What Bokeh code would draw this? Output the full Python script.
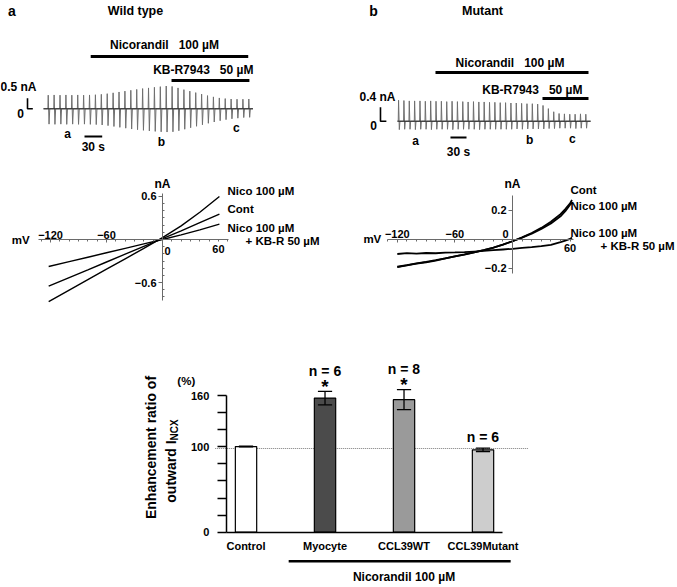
import numpy as np
from bokeh.plotting import figure
from bokeh.layouts import column, row
from bokeh.models import Range1d, LinearAxis, FixedTicker
from bokeh.core.properties import value
from bokeh.embed import file_html
from bokeh.resources import INLINE

FONT = "Liberation Sans"
MU = "\u00b5"
NB = "\u00a0"

# ---------------- data ----------------
SWEEP_PERIOD = 10  # s between ramp sweeps

# (a) wild type: peak outward / inward current of each ramp sweep (nA)
wt_up = [0.64, 0.65, 0.64, 0.65, 0.64, 0.65, 0.64, 0.65, 0.66, 0.68,
         0.71, 0.75, 0.79, 0.83, 0.87, 0.91, 0.95, 0.98, 1.01, 1.04,
         1.07, 1.05, 0.98, 0.90, 0.83, 0.76, 0.69, 0.62, 0.56, 0.51,
         0.48, 0.46, 0.45, 0.45, 0.46]
wt_down = [0.72, 0.73, 0.72, 0.73, 0.72, 0.73, 0.72, 0.73, 0.74, 0.76,
           0.79, 0.83, 0.87, 0.91, 0.95, 0.98, 1.01, 1.04, 1.06, 1.08,
           1.09, 1.08, 1.03, 0.96, 0.89, 0.82, 0.75, 0.68, 0.62, 0.56,
           0.51, 0.47, 0.44, 0.41, 0.40]
wt_first_sweep = 8      # s
wt_trace_end = 355      # s
wt_nico = (80, 347)     # s, nicorandil application
wt_kbr = (217, 349)     # s, KB-R7943 application
wt_marks = ["a", "b", "c"]
wt_mark_t = [41, 200, 327]

# (b) mutant
mut_up = [0.60, 0.59, 0.58, 0.58, 0.58, 0.57, 0.58, 0.57, 0.57, 0.56,
          0.57, 0.56, 0.56, 0.55, 0.56, 0.55, 0.55, 0.54, 0.54, 0.53,
          0.53, 0.52, 0.52, 0.51, 0.50, 0.50, 0.49, 0.45, 0.36, 0.27,
          0.22, 0.21, 0.20, 0.20, 0.21, 0.20]
mut_down = [0.24, 0.23, 0.23, 0.24, 0.23, 0.23, 0.24, 0.23, 0.23, 0.23,
            0.24, 0.23, 0.23, 0.23, 0.23, 0.24, 0.23, 0.23, 0.23, 0.23,
            0.23, 0.23, 0.22, 0.23, 0.22, 0.22, 0.22, 0.22, 0.21, 0.21,
            0.20, 0.20, 0.20, 0.21, 0.20, 0.20]
mut_first_sweep = 2
mut_trace_end = 361
mut_nico = (71, 357)
mut_kbr = (271, 357)
mut_marks = ["a", "b", "c"]
mut_mark_t = [34, 247, 327]

# I-V relations (mV, nA)
wt_iv_mv = [-122, -100, -80, -60, -40, -20, 0, 20, 40, 61]
wt_iv_nico = [-0.865, -0.705, -0.560, -0.414, -0.269, -0.124, 0.025, 0.19, 0.38, 0.60]
wt_iv_cont = [-0.650, -0.531, -0.423, -0.314, -0.205, -0.096, 0.012, 0.12, 0.235, 0.355]
wt_iv_kbr = [-0.377, -0.308, -0.247, -0.185, -0.123, -0.061, 0.0, 0.065, 0.135, 0.215]

mut_iv_mv = [-120, -110, -100, -90, -80, -70, -60, -50, -40, -30, -20, -10,
             0, 10, 20, 30, 40, 50, 55, 60, 62]
mut_iv_cont = [-0.190, -0.178, -0.167, -0.157, -0.145, -0.131, -0.117, -0.104,
               -0.089, -0.074, -0.057, -0.035, -0.012, 0.015, 0.045, 0.080,
               0.122, 0.175, 0.210, 0.250, 0.272]
mut_iv_nico = [-0.188, -0.177, -0.165, -0.155, -0.143, -0.130, -0.116, -0.103,
               -0.088, -0.073, -0.056, -0.035, -0.012, 0.013, 0.040, 0.072,
               0.110, 0.160, 0.195, 0.240, 0.252]
mut_iv_kbr = [-0.100, -0.094, -0.097, -0.093, -0.095, -0.090, -0.089, -0.087,
              -0.083, -0.079, -0.074, -0.069, -0.064, -0.058, -0.052, -0.045,
              -0.037, -0.018, -0.008, 0.004, 0.014]

# (c) enhancement ratio of outward I_NCX (%)
groups = ["Control", "Myocyte", "CCL39WT", "CCL39Mutant"]
ratio = [100.3, 157.0, 155.2, 96.5]
sem = [0.5, 7.8, 11.7, 2.0]
n_text = ["", "n = 6", "n = 8", "n = 6"]
sig = ["", "*", "*", ""]
ref_level = 98
treated_first, treated_last = 1, 3

bar_colors = ["white", "#4b4b4b", "#9a9a9a", "#cdcdcd"]


# ---------------- helpers ----------------
def make_fig(w, h, xr, yr):
    p = figure(width=w, height=h, x_range=Range1d(*xr), y_range=Range1d(*yr),
               x_axis_type=None, y_axis_type=None, output_backend="svg",
               toolbar_location=None, min_border=0)
    p.outline_line_color = None
    p.border_fill_color = "white"
    p.background_fill_color = "white"
    return p


def txt(p, x, y, s, size=11, align="center", baseline="middle", angle=0.0,
        xo=0, yo=0, color="black"):
    p.text(x=[x], y=[y], text=[s], text_font=value(FONT),
           text_font_size=value(f"{size}px"), text_font_style=value("bold"),
           text_align=value(align), text_baseline=value(baseline),
           angle=angle, x_offset=xo, y_offset=yo, text_color=color)


def add_axis(p, side, loc, ticks, bounds, minor=(), overrides=None,
             tick_in=0, tick_out=3, minor_in=0, minor_out=0, standoff=2,
             line_color="black", line_width=1.0, size=11, show_line=True):
    ax = LinearAxis(fixed_location=loc, bounds=bounds,
                    ticker=FixedTicker(ticks=list(ticks), minor_ticks=list(minor)))
    ax.axis_line_color = line_color if show_line else None
    ax.axis_line_width = line_width
    ax.major_tick_line_color = line_color
    ax.major_tick_line_width = line_width
    ax.minor_tick_line_color = line_color
    ax.major_tick_in = tick_in
    ax.major_tick_out = tick_out
    ax.minor_tick_in = minor_in
    ax.minor_tick_out = minor_out
    ax.major_label_standoff = standoff
    ax.major_label_text_font = FONT
    ax.major_label_text_font_style = "bold"
    ax.major_label_text_font_size = f"{size}px"
    ax.major_label_text_color = "black"
    if overrides:
        ax.major_label_overrides = overrides
    p.add_layout(ax, side)
    return ax


def trace_xy(first, up, down, t_end):
    xs, ys = [0.0], [0.0]
    for i, (u, d) in enumerate(zip(up, down)):
        t = first + i * SWEEP_PERIOD
        xs += [t - 0.6, t, t + 1.4, t + 2.6]
        ys += [0.0, u, -d, 0.0]
    xs.append(t_end)
    ys.append(0.0)
    return xs, ys


def nearest_down(first, down, t):
    i = int(round((t - first) / SWEEP_PERIOD))
    i = max(0, min(len(down) - 1, i))
    return down[i]


# ---------------- (a) top: wild-type trace ----------------
A = make_fig(340, 166, (-72.88, 503.39), (-2.709, 5.085))
xs, ys = trace_xy(wt_first_sweep, wt_up, wt_down, wt_trace_end)
A.line(xs, ys, line_color="#6f6f6f", line_width=1.0)
A.line([0, wt_trace_end], [0, 0], line_color="#222222", line_width=1.0)
nico_lvl_a, kbr_lvl_a = 2.455, 1.329
A.segment(x0=[wt_nico[0]], y0=[nico_lvl_a], x1=[wt_nico[1]], y1=[nico_lvl_a],
          line_color="black", line_width=3)
A.segment(x0=[wt_kbr[0]], y0=[kbr_lvl_a], x1=[wt_kbr[1]], y1=[kbr_lvl_a],
          line_color="black", line_width=3)
txt(A, (wt_nico[0] + wt_nico[1]) / 2, nico_lvl_a, f"Nicorandil{NB*3}100 {MU}M", 12, yo=-12, xo=-5)
txt(A, wt_kbr[1], kbr_lvl_a, f"KB-R7943{NB*3}50 {MU}M", 12, align="right", yo=-10, xo=4)
# scale bars
sb_t_a = -27.1
A.line([sb_t_a, sb_t_a, sb_t_a + 9], [0.5, 0, 0], line_color="black", line_width=1.6)
txt(A, A.x_range.start, 0.5, "0.5 nA", 12, align="left", yo=-11)
txt(A, sb_t_a, 0, "0", 12, xo=-7, yo=5)
sb30_a = 69.5
A.segment(x0=[sb30_a], y0=[-1.30], x1=[sb30_a + 30], y1=[-1.30], line_color="black", line_width=2)
txt(A, sb30_a + 15, -1.30, "30 s", 12, yo=11)
for lab, t in zip(wt_marks, wt_mark_t):
    txt(A, t, -nearest_down(wt_first_sweep, wt_down, t), lab, 12, yo=10)
txt(A, -53.4, 4.615, "a", 14)
txt(A, 155.9, 4.615, "Wild type", 12.5)

# ---------------- (b) top: mutant trace ----------------
B = make_fig(337, 166, (-106.54, 523.36), (-1.294, 3.449))
xs, ys = trace_xy(mut_first_sweep, mut_up, mut_down, mut_trace_end)
B.line(xs, ys, line_color="#6f6f6f", line_width=1.0)
B.line([0, mut_trace_end], [0, 0], line_color="#222222", line_width=1.0)
nico_lvl_b, kbr_lvl_b = 1.391, 0.649
B.segment(x0=[mut_nico[0]], y0=[nico_lvl_b], x1=[mut_nico[1]], y1=[nico_lvl_b],
          line_color="black", line_width=3)
B.segment(x0=[mut_kbr[0]], y0=[kbr_lvl_b], x1=[mut_kbr[1]], y1=[kbr_lvl_b],
          line_color="black", line_width=3)
txt(B, (mut_nico[0] + mut_nico[1]) / 2, nico_lvl_b, f"Nicorandil{NB*3}100 {MU}M", 12, yo=-10, xo=-2)
txt(B, mut_kbr[1], kbr_lvl_b, f"KB-R7943{NB*3}50 {MU}M", 12, align="right", yo=-8, xo=-6)
sb_t_b = -31.8
B.line([sb_t_b, sb_t_b, sb_t_b + 11], [0.4, 0, 0], line_color="black", line_width=1.6)
txt(B, sb_t_b, 0.4, "0.4 nA", 12, xo=-3, yo=-10)
txt(B, sb_t_b, 0, "0", 12, xo=-7, yo=4)
sb30_b = 99
B.segment(x0=[sb30_b], y0=[-0.466], x1=[sb30_b + 30], y1=[-0.466], line_color="black", line_width=2)
txt(B, sb30_b + 15, -0.466, "30 s", 12, yo=14)
for lab, t in zip(mut_marks, mut_mark_t):
    txt(B, t, -nearest_down(mut_first_sweep, mut_down, t), lab, 12, yo=11)
txt(B, -44.9, 3.163, "b", 14)
txt(B, 158.9, 3.163, "Mutant", 12.5)

# ---------------- (a) I-V ----------------
C = make_fig(340, 164, (-173.63, 190.78), (-1.269, 1.018))
gray = "#6a6a6a"
add_axis(C, "above", 0, [-120, -60], (-133, 71), minor=range(-130, 71, 10),
         tick_in=3, tick_out=0, minor_in=2, standoff=1, line_color=gray)
add_axis(C, "below", 0, [60], (-133, 71), tick_in=0, tick_out=0, standoff=5,
         show_line=False, line_color=gray)
add_axis(C, "left", 0, [-0.6, 0.6], (-0.85, 0.64),
         minor=[-0.8, -0.7, -0.5, -0.4, -0.3, -0.2, -0.1, 0.1, 0.2, 0.3, 0.4, 0.5],
         tick_in=0, tick_out=4, minor_in=2, standoff=2, line_color=gray)
for ys_ in (wt_iv_nico, wt_iv_cont, wt_iv_kbr):
    C.line(wt_iv_mv, ys_, line_color="black", line_width=1.4)
txt(C, 0, 0, "0", 11, xo=5, yo=11)
txt(C, 0, 0.78, "nA", 12)
txt(C, -152, 0, "mV", 11.5)
txt(C, 69.7, 0.683, f"Nico 100 {MU}M", 11.5, align="left")
txt(C, 69.7, 0.432, "Cont", 11.5, align="left")
txt(C, 69.7, 0.167, f"Nico 100 {MU}M", 11.5, align="left")
txt(C, 89, -0.014, f"+ KB-R 50 {MU}M", 11.5, align="left")

# ---------------- (b) I-V ----------------
D = make_fig(337, 164, (-179.17, 171.88), (-0.6276, 0.5034))
add_axis(D, "above", 0, [-120, -60], (-130.2, 63.5), minor=range(-130, 61, 10),
         tick_in=3, tick_out=0, minor_in=2, standoff=1, line_color=gray)
add_axis(D, "below", 0, [60], (-130.2, 63.5), tick_in=0, tick_out=0, standoff=5,
         show_line=False, line_color=gray)
add_axis(D, "left", 0, [-0.2, 0.2], (-0.235, 0.30), tick_in=0, tick_out=4,
         standoff=2, line_color=gray)
for ys_ in (mut_iv_cont, mut_iv_nico, mut_iv_kbr):
    D.line(mut_iv_mv, ys_, line_color="black", line_width=1.8)
txt(D, 0, 0, "0", 11, xo=-7, yo=-5)
txt(D, 0, 0.386, "nA", 12)
txt(D, -146, 0, "mV", 11.5)
txt(D, 60.4, 0.338, "Cont", 11.5, align="left")
txt(D, 60.4, 0.234, f"Nico 100 {MU}M", 11.5, align="left")
txt(D, 60.4, 0.048, f"Nico 100 {MU}M", 11.5, align="left")
txt(D, 91.7, -0.048, f"+ KB-R 50 {MU}M", 11.5, align="left")

# ---------------- (c) bar chart ----------------
E = make_fig(677, 257, (-3.108, 5.462), (-64.75, 236.18))
pos = list(range(len(groups)))
E.line([-0.39, 3.57], [ref_level, ref_level], line_color="#7a7a7a",
       line_width=1.2, line_dash="1 1")
E.vbar(x=pos, top=ratio, width=0.27, fill_color=bar_colors,
       line_color="black", line_width=1.2)
upper = [r + s for r, s in zip(ratio, sem)]
lower = [r - s for r, s in zip(ratio, sem)]
E.segment(x0=pos, y0=lower, x1=pos, y1=upper, line_color="black", line_width=1.3)
E.segment(x0=[x - 0.09 for x in pos], y0=upper, x1=[x + 0.09 for x in pos], y1=upper,
          line_color="black", line_width=1.3)
E.segment(x0=[x - 0.09 for x in pos], y0=lower, x1=[x + 0.09 for x in pos], y1=lower,
          line_color="black", line_width=1.3)
for x, u, n, s in zip(pos, upper, n_text, sig):
    if s:
        txt(E, x, u, s, 19, yo=-5)
    if n:
        txt(E, x, u, n, 14, yo=-(10.7 + (9.5 if s else 0)))
add_axis(E, "left", -0.25, range(0, 161, 20), (0, 160),
         overrides={t: (str(t) if t in (0, 100, 160) else "") for t in range(0, 161, 20)},
         tick_in=0, tick_out=9, standoff=8, line_width=1.5, size=11)
add_axis(E, "below", 0, pos, (-0.25, 3.25),
         overrides={i: g for i, g in enumerate(groups)},
         tick_in=0, tick_out=0, standoff=8, line_width=1.5, size=11)
treat_y = -34
E.segment(x0=[treated_first - 0.46], y0=[treat_y], x1=[treated_last + 0.35], y1=[treat_y],
          line_color="black", line_width=2.5)
txt(E, (treated_first + treated_last) / 2, treat_y, f"Nicorandil 100 {MU}M", 12, yo=16)
txt(E, -0.25, 160, "(%)", 11.5, xo=-40, yo=-15)
txt(E, -1.209, 99.2, "Enhancement ratio of", 14, angle=np.pi / 2)
txt(E, -0.956, 107.4, "outward I", 14, angle=np.pi / 2, align="right")
txt(E, -0.956, 107.4, "NCX", 10, angle=np.pi / 2, align="left", xo=4)

layout = column(row(A, B), row(C, D), E)
open("out.html", "w").write(file_html(layout, INLINE))
